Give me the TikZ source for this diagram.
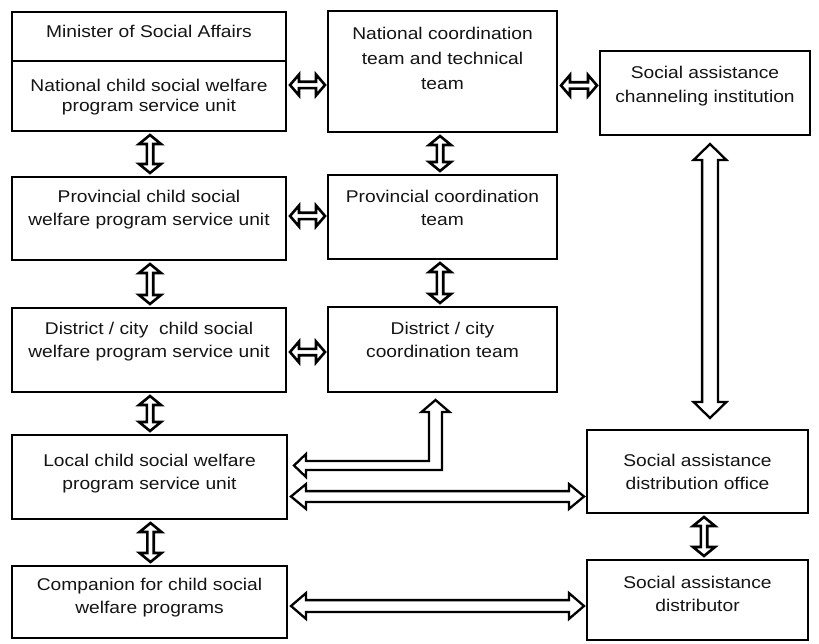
\documentclass[tikz,border=0pt]{standalone}
\usepackage{fontspec}
\setmainfont{Liberation Sans}[FakeStretch=1.13]
\usetikzlibrary{calc}
\definecolor{txt}{HTML}{141414}
\tikzset{
  box/.style={draw, line width=2.5pt, anchor=north west, inner sep=0pt, outer sep=0pt},
  lbl/.style={anchor=north, inner sep=0pt, align=center, text=txt, font=\fontsize{17}{23.5}\selectfont},
  arrowline/.style={draw, line width=2.3pt, line join=miter, fill=white},
  smallarrow/.style={line width=2.6pt},
}
% horizontal hollow double arrow: #1 style, #2 left tip, #3 right tip, #4 head half, #5 head length, #6 shaft half
\newcommand\harr[6][]{%
  \draw[arrowline,#1] let \p1=#2, \p2=#3 in
  (\x1,\y1) -- (\x1+#5,\y1+#4) -- (\x1+#5,\y1+#6) -- (\x2-#5,\y1+#6) -- (\x2-#5,\y1+#4)
  -- (\x2,\y1) -- (\x2-#5,\y1-#4) -- (\x2-#5,\y1-#6) -- (\x1+#5,\y1-#6) -- (\x1+#5,\y1-#4) -- cycle;}
% vertical hollow double arrow: #2 top tip, #3 bottom tip
\newcommand\varr[6][]{%
  \draw[arrowline,#1] let \p1=#2, \p2=#3 in
  (\x1,\y1) -- (\x1+#4,\y1-#5) -- (\x1+#6,\y1-#5) -- (\x1+#6,\y2+#5) -- (\x1+#4,\y2+#5)
  -- (\x1,\y2) -- (\x1-#4,\y2+#5) -- (\x1-#6,\y2+#5) -- (\x1-#6,\y1-#5) -- (\x1-#4,\y1-#5) -- cycle;}
\begin{document}
\begin{tikzpicture}[x=1pt,y=-1pt]
\useasboundingbox[fill=white] (0,0) rectangle (819,644);

% boxes
\node[box, minimum width=274pt, minimum height=49pt] (minister) at (12,12) {};
\node[box, minimum width=274pt, minimum height=70pt] (natchild) at (12,61) {};
\node[box, minimum width=229pt, minimum height=121pt] (natcoord) at (328,11) {};
\node[box, minimum width=210pt, minimum height=84pt] (chan) at (600,51) {};
\node[box, minimum width=274pt, minimum height=83pt] (provchild) at (12,177) {};
\node[box, minimum width=229pt, minimum height=84pt] (provcoord) at (328,175) {};
\node[box, minimum width=274pt, minimum height=84pt] (distchild) at (12,308) {};
\node[box, minimum width=229pt, minimum height=85pt] (distcoord) at (328,307) {};
\node[box, minimum width=275pt, minimum height=84pt] (local) at (12,435) {};
\node[box, minimum width=221pt, minimum height=83pt] (office) at (587,430) {};
\node[box, minimum width=275pt, minimum height=72pt] (companion) at (12,566) {};
\node[box, minimum width=221pt, minimum height=80pt] (distributor) at (587,560) {};

% texts
\node[lbl] (tminister) at ($(minister.north)+(0,13)$) {Minister of Social Affairs};
\node[lbl, font=\fontsize{17}{20}\selectfont] (tnatchild) at ($(natchild.north)+(0,17.5)$) {National child social welfare\\program service unit};
\node[lbl, font=\fontsize{17}{25}\selectfont] (tnatcoord) at ($(natcoord.north)+(0,15.5)$) {National coordination\\team and technical\\team};
\node[lbl, font=\fontsize{17}{24}\selectfont] (tchan) at ($(chan.north)+(0,14.5)$) {Social assistance\\channeling institution};
\node[lbl] (tprovchild) at ($(provchild.north)+(0,12.5)$) {Provincial child social\\welfare program service unit};
\node[lbl] (tprovcoord) at ($(provcoord.north)+(0,14.5)$) {Provincial coordination\\team};
\node[lbl] (tdistchild) at ($(distchild.north)+(0,13.5)$) {District / city~ child social\\welfare program service unit};
\node[lbl] (tdistcoord) at ($(distcoord.north)+(0,14.5)$) {District / city\\coordination team};
\node[lbl] (tlocal) at ($(local.north)+(0,18.5)$) {Local child social welfare\\program service unit};
\node[lbl] (toffice) at ($(office.north)+(0,23.5)$) {Social assistance\\distribution office};
\node[lbl] (tcompanion) at ($(companion.north)+(0,11.5)$) {Companion for child social\\welfare programs};
\node[lbl] (tdistributor) at ($(distributor.north)+(0,15.5)$) {Social assistance\\distributor};

% small horizontal arrows
\harr[smallarrow]{($(natchild.east)+(4,-11)$)}{($(natcoord.west)+(-3,0)$)}{10.5pt}{9pt}{3.2pt}
\harr[smallarrow]{($(natcoord.east)+(4,14)$)}{($(chan.west)+(-3,0)$)}{10.5pt}{9pt}{3.2pt}
\harr[smallarrow]{($(provchild.east)+(4,-2.5)$)}{($(provcoord.west)+(-3,0)$)}{10.5pt}{9pt}{3.2pt}
\harr[smallarrow]{($(distchild.east)+(4,2)$)}{($(distcoord.west)+(-3,0)$)}{10.5pt}{9pt}{3.2pt}

% small vertical arrows
\varr[smallarrow]{($(natchild.south)+(1,4)$)}{($(provchild.north)+(1,-4)$)}{11pt}{9pt}{3.2pt}
\varr[smallarrow]{($(provchild.south)+(1,4)$)}{($(distchild.north)+(1,-4)$)}{11pt}{9pt}{3.2pt}
\varr[smallarrow]{($(distchild.south)+(1,4)$)}{($(local.north)+(1,-4)$)}{11pt}{9pt}{3.2pt}
\varr[smallarrow]{($(local.south)+(1,4)$)}{($(companion.north)+(1,-4)$)}{11pt}{9pt}{3.2pt}
\varr[smallarrow]{($(natcoord.south)+(-2.5,4)$)}{($(provcoord.north)+(-2.5,-4)$)}{11pt}{9pt}{3.2pt}
\varr[smallarrow]{($(provcoord.south)+(-2.5,4)$)}{($(distcoord.north)+(-2.5,-4)$)}{11pt}{9pt}{3.2pt}
\varr[smallarrow]{($(office.south)+(6.5,4)$)}{($(distributor.north)+(6.5,-4)$)}{11pt}{9pt}{3.2pt}

% long arrows
\varr{($(chan.south)+(5,9)$)}{($(office.north)+(12.5,-12)$)}{16.4pt}{16pt}{7.9pt}
\harr{($(local.east)+(4,19.5)$)}{($(office.west)+(-3,0)$)}{12.4pt}{15pt}{5.4pt}
\harr{($(companion.east)+(4,4)$)}{($(distributor.west)+(-3,0)$)}{12.9pt}{15pt}{5.9pt}

% L-shaped arrow: local <- ... -> district/city coordination team
\draw[arrowline] let \p1=($(local.east)+(7,-11.5)$), \p2=($(distcoord.south)+(-7,8)$) in
  (\x1,\y1) -- (\x1+12pt,\y1+11.5pt) -- (\x1+12pt,\y1+4.5pt) -- (\x2-6.5pt,\y1+4.5pt)
  -- (\x2-6.5pt,\y2-12pt) -- (\x2-14pt,\y2-12pt) -- (\x2,\y2) -- (\x2+14pt,\y2-12pt)
  -- (\x2+6.5pt,\y2-12pt) -- (\x2+6.5pt,\y1-4.5pt) -- (\x1+12pt,\y1-4.5pt)
  -- (\x1+12pt,\y1-11.5pt) -- cycle;
\end{tikzpicture}
\end{document}
